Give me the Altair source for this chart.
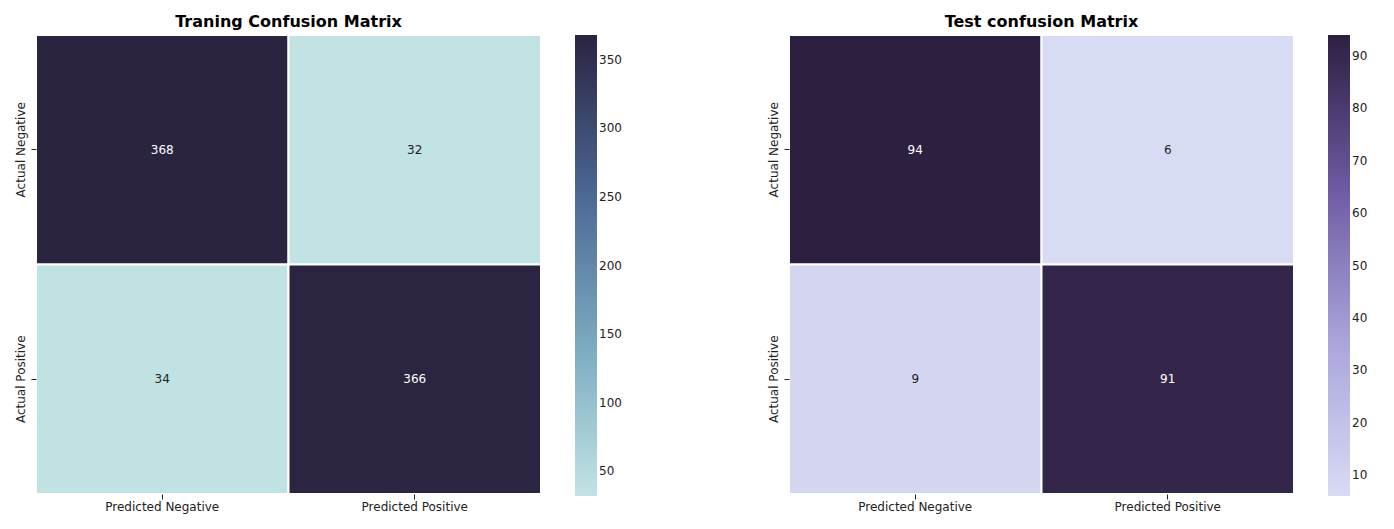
import altair as alt
import pandas as pd

actual = ["Actual Negative", "Actual Negative", "Actual Positive", "Actual Positive"]
predicted = ["Predicted Negative", "Predicted Positive", "Predicted Negative", "Predicted Positive"]
train_counts = [368, 32, 34, 366]
test_counts = [94, 6, 9, 91]

def panel(counts, title, colors, ticks, threshold):
    df = pd.DataFrame({"actual": actual, "predicted": predicted, "count": counts})
    base = alt.Chart(df).encode(
        x=alt.X("predicted:N", title=None, sort=None,
                axis=alt.Axis(labelAngle=0, domain=False, labelFontSize=12, labelColor="#222", tickColor="#222")),
        y=alt.Y("actual:N", title=None, sort=None,
                axis=alt.Axis(labelAngle=-90, labelAlign="center", labelBaseline="bottom", labelPadding=4,
                              domain=False, labelFontSize=12, labelColor="#222", tickColor="#222")),
    )
    rect = base.mark_rect(stroke="white", strokeWidth=2).encode(
        color=alt.Color("count:Q", title=None,
                        scale=alt.Scale(domain=[min(counts), max(counts)], range=colors, interpolate="rgb"),
                        legend=alt.Legend(gradientLength=461, gradientThickness=22, values=ticks,
                                          offset=34, labelFontSize=12, labelColor="#222",
                                          gradientStrokeWidth=0))
    )
    text = base.mark_text(fontSize=12).encode(
        text="count:Q",
        color=alt.condition(alt.datum.count > threshold, alt.value("white"), alt.value("#222")),
    )
    return (rect + text).resolve_scale(color="independent").properties(
        width=505, height=459,
        title=alt.TitleParams(title, fontSize=16, fontWeight="bold", color="black", offset=4),
    )

left = panel(train_counts, "Traning Confusion Matrix",
             ["#c2e3e4", "#7aa9bf", "#4a6592", "#2a2440"], [50, 100, 150, 200, 250, 300, 350], 200)
right = panel(test_counts, "Test confusion Matrix",
              ["#d8dbf4", "#aaa5da", "#6e5aa3", "#2d1f40"], [10, 20, 30, 40, 50, 60, 70, 80, 90], 50)

chart = (
    alt.hconcat(left, right, spacing=143)
    .resolve_scale(color="independent")
    .resolve_legend(color="independent")
    .configure_view(stroke=None)
    .configure_scale(bandPaddingInner=0)
    .configure(font="DejaVu Sans")
)
chart.save("out.html", embed_options={"renderer": "svg", "actions": False})
